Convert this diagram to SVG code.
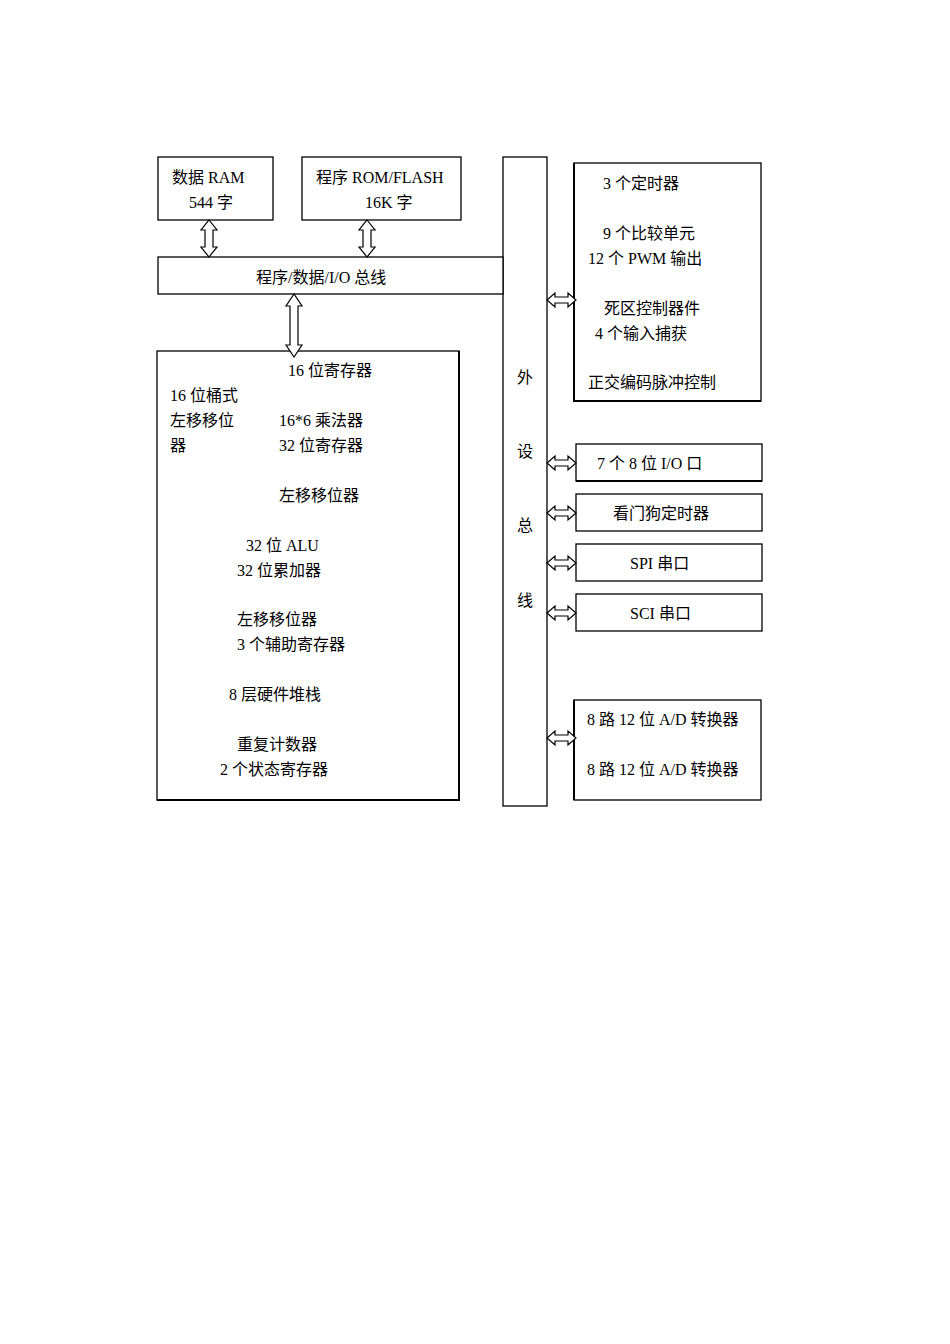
<svg xmlns="http://www.w3.org/2000/svg" width="950" height="1344" viewBox="0 0 950 1344">
<style>
.b{fill:#fff;stroke:#000;stroke-width:1.3}
.a{fill:#fff;stroke:#000;stroke-width:1.2}
text{font-family:"Liberation Serif","Noto Sans CJK SC",serif;font-size:16px;fill:#000}
</style>
<rect width="950" height="1344" fill="#fff"/>
<g id="ram"><rect class="b" x="158" y="157" width="115" height="63"/><text x="172" y="183">数据 RAM</text><text x="189" y="208">544 字</text></g>
<g id="rom"><rect class="b" x="302" y="157" width="159" height="63"/><text x="316" y="183">程序 ROM/FLASH</text><text x="365" y="208">16K 字</text></g>
<g id="pbus"><rect class="b" x="503" y="157" width="44" height="649"/><text x="517" y="383">外</text><text x="517" y="457">设</text><text x="517" y="531">总</text><text x="517" y="606">线</text></g>
<g id="bus"><rect class="b" x="158" y="257" width="345" height="37"/><text x="256" y="283">程序/数据/I/O 总线</text></g>
<g id="cpu"><rect class="b" x="157" y="351" width="302" height="449"/><path d="M459 351V800H157" fill="none" stroke="#000" stroke-width="2"/>
<text x="288" y="376">16 位寄存器</text><text x="170" y="401">16 位桶式</text><text x="170" y="426">左移移位</text><text x="170" y="451">器</text>
<text x="279" y="426">16*6 乘法器</text><text x="279" y="451">32 位寄存器</text><text x="279" y="501">左移移位器</text>
<text x="246" y="551">32 位 ALU</text><text x="237" y="576">32 位累加器</text><text x="237" y="625">左移移位器</text><text x="237" y="650">3 个辅助寄存器</text>
<text x="229" y="700">8 层硬件堆栈</text><text x="237" y="750">重复计数器</text><text x="220" y="775">2 个状态寄存器</text></g>
<g id="ev"><rect class="b" x="574" y="163" width="187" height="238"/><path d="M574 163V401H761" fill="none" stroke="#000" stroke-width="2"/>
<text x="603" y="189">3 个定时器</text><text x="603" y="239">9 个比较单元</text><text x="588" y="264">12 个 PWM 输出</text><text x="604" y="314">死区控制器件</text><text x="595" y="339">4 个输入捕获</text><text x="588" y="388">正交编码脉冲控制</text></g>
<g id="io"><rect class="b" x="576" y="444" width="186" height="37"/><path d="M576 481H762" stroke="#000" stroke-width="2"/><text x="597" y="469">7 个 8 位 I/O 口</text></g>
<g id="wd"><rect class="b" x="576" y="494" width="186" height="37"/><text x="613" y="519">看门狗定时器</text></g>
<g id="spi"><rect class="b" x="576" y="544" width="186" height="37"/><text x="630" y="569">SPI 串口</text></g>
<g id="sci"><rect class="b" x="576" y="594" width="186" height="37"/><text x="630" y="619">SCI 串口</text></g>
<g id="adc"><rect class="b" x="574" y="700" width="187" height="100"/><path d="M574 700V800" stroke="#000" stroke-width="2"/><text x="587" y="725">8 路 12 位 A/D 转换器</text><text x="587" y="775">8 路 12 位 A/D 转换器</text></g>
<g id="connectors">
<polygon class="a" points="209,220 217,230 213,230 213,247 217,247 209,257 201,247 205,247 205,230 201,230"/>
<polygon class="a" points="367,220 375,230 371,230 371,247 375,247 367,257 359,247 363,247 363,230 359,230"/>
<polygon class="a" points="294,294 302,306 298,306 298,345 302,345 294,357 286,345 290,345 290,306 286,306"/>
<polygon class="a" points="547,300 555,293 555,297 568,297 568,293 576,300 568,307 568,303 555,303 555,307"/>
<polygon class="a" points="547,463 555,456 555,460 568,460 568,456 576,463 568,470 568,466 555,466 555,470"/>
<polygon class="a" points="547,513 555,506 555,510 568,510 568,506 576,513 568,520 568,516 555,516 555,520"/>
<polygon class="a" points="547,563 555,556 555,560 568,560 568,556 576,563 568,570 568,566 555,566 555,570"/>
<polygon class="a" points="547,613 555,606 555,610 568,610 568,606 576,613 568,620 568,616 555,616 555,620"/>
<polygon class="a" points="547,738 555,731 555,735 568,735 568,731 576,738 568,745 568,741 555,741 555,745"/>
</g>
</svg>
